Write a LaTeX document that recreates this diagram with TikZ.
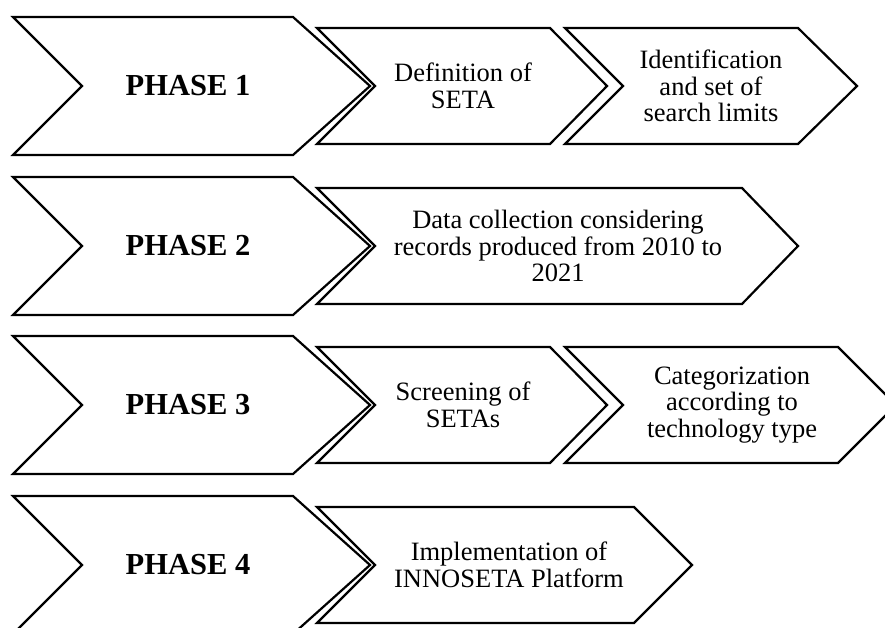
\documentclass[tikz,border=0pt]{standalone}
\usepackage{fontspec}
\setmainfont{Liberation Serif}
\tikzset{
  chev/.style={draw=black, line width=2.2pt, line join=miter, fill=white},
  phasetxt/.style={font=\fontsize{30.5}{36}\selectfont\bfseries, inner sep=0pt},
  stepbox/.style={font=\fontsize{26.5}{26.5}\selectfont, align=center, inner sep=0pt},
}
% #1 left x, #2 top-right corner x, #3 mid y, #4 half height (= notch depth), #5 tip depth
\newcommand\mychev[5]{%
  \draw[chev] ({#1},{#3-#4}) -- ({#2},{#3-#4}) -- ({#2+#5},{#3}) -- ({#2},{#3+#4})
    -- ({#1},{#3+#4}) -- ({#1+#4},{#3}) -- cycle;}
\begin{document}
\begin{tikzpicture}[x=1pt,y=-1pt]
\useasboundingbox (0,0) rectangle (885,628);
\clip (0,0) rectangle (885,628);
% Row 1
\mychev{13}{293}{86}{69}{77}
\mychev{317}{550}{86}{58}{57}
\mychev{565}{798}{86}{58}{59}
\node[phasetxt] (p1) at (188,86) {PHASE 1};
\node[stepbox] (s11) at (463,86) {Definition of\\SETA};
\node[stepbox] (s12) at (711,86) {Identification\\and set of\\search limits};
% Row 2
\mychev{13}{293}{246}{69}{77}
\mychev{317}{742}{246}{58}{56}
\node[phasetxt] (p2) at (188,246) {PHASE 2};
\node[stepbox] (s21) at (558,246) {Data collection considering\\records produced from 2010 to\\2021};
% Row 3
\mychev{13}{293}{405}{69}{77}
\mychev{317}{550}{405}{58}{57}
\mychev{565}{838}{405}{58}{58}
\node[phasetxt] (p3) at (188,405) {PHASE 3};
\node[stepbox] (s31) at (463,405) {Screening of\\SETAs};
\node[stepbox] (s32) at (732,405) {Categorization\\according to\\technology type};
% Row 4
\mychev{13}{293}{565}{69}{77}
\mychev{317}{634}{565}{58}{58}
\node[phasetxt] (p4) at (188,565) {PHASE 4};
\node[stepbox] (s41) at (509,565) {Implementation of\\INNOSETA Platform};
\end{tikzpicture}
\end{document}
